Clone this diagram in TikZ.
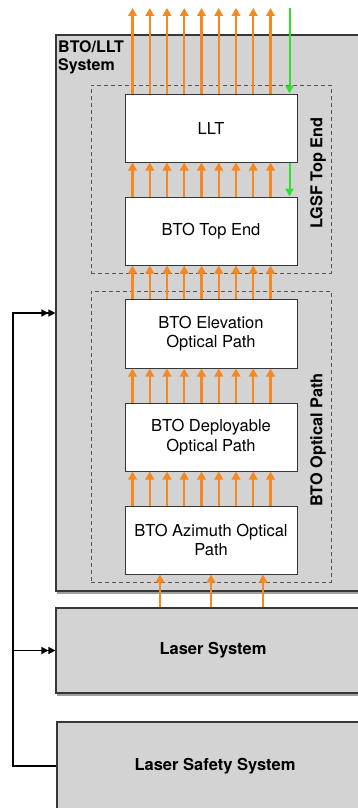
\documentclass[tikz,border=0pt]{standalone}
\usepackage{fontspec}
\setmainfont{TeX Gyre Heros}
\usetikzlibrary{arrows.meta,shadows}
\definecolor{boxgray}{RGB}{211,211,211}
\definecolor{edgegray}{RGB}{55,55,55}
\definecolor{beamorange}{RGB}{245,137,32}
\definecolor{guidegreen}{RGB}{45,225,45}
\tikzstyle{sys} = [draw=edgegray, line width=1.2pt, fill=boxgray, drop shadow={shadow xshift=1pt, shadow yshift=-2.5pt, fill=black!75}, font=\bfseries\fontsize{16.5}{19}\selectfont]
\tikzstyle{group} = [draw=edgegray!85, line width=1pt, dash pattern=on 4pt off 3pt]
\tikzstyle{unit} = [draw=edgegray, line width=1pt, fill=white, minimum width=172pt, minimum height=68pt, align=center, font=\fontsize{16.5}{19.5}\selectfont]
\tikzstyle{tag} = [rotate=90, font=\bfseries\fontsize{16.3}{19}\selectfont]
\tikzstyle{beam} = [draw=beamorange, line width=2.4pt, -{Triangle[width=8.5pt,length=8pt]}]
\tikzstyle{guide} = [draw=guidegreen, line width=2pt, -{Triangle[width=8pt,length=8pt]}]
\tikzstyle{ctrl} = [draw, line width=1.5pt, -{Triangle[width=7pt,length=7pt]Triangle[width=7pt,length=7pt]}]

\begin{document}
\begin{tikzpicture}[x=1pt,y=-1pt]
\useasboundingbox (0,0) rectangle (358,808);
\node (btollt) at (213,313) [sys, minimum width=314pt, minimum height=556pt] {};
\node (btolbl) at (58,40) [anchor=north west, inner sep=0pt, align=left, font=\bfseries\fontsize{16}{18}\selectfont] {BTO/LLT\\System};
\node (topend) at (211,179) [group, minimum width=240pt, minimum height=188pt] {};
\node (optpath) at (211,436.5) [group, minimum width=240pt, minimum height=291pt] {};
\node (llt) at (211,128) [unit] {LLT};
\node (bte) at (211,231) [unit] {BTO Top End};
\node (elev) at (211,333.5) [unit, minimum height=69pt] {BTO Elevation\\Optical Path};
\node (depl) at (211,437) [unit] {BTO Deployable\\Optical Path};
\node (azim) at (211,540) [unit] {BTO Azimuth Optical\\Path};
\node (laser) at (213,650.5) [sys, minimum width=314pt, minimum height=85pt] {Laser System};
\node (safety) at (215,766) [sys, minimum width=316pt, minimum height=88pt] {Laser Safety System};
\node (topendtag) at (318,173) [tag] {LGSF Top End};
\node (opttag) at (318,440) [tag] {BTO Optical Path};
\coordinate (sky) at (0,8);
\coordinate (rail) at (13,0);
% draw lines
\foreach \i in {0,...,8} {
  \path [beam] ([xshift={8pt+17.25pt*\i}]llt.north west) -- ([xshift={8pt+17.25pt*\i}]llt.north west |- sky);
  \path [beam] ([xshift={8pt+17.25pt*\i}]bte.north west) -- ([xshift={8pt+17.25pt*\i}]llt.south west);
  \path [beam] ([xshift={8pt+17.25pt*\i}]elev.north west) -- ([xshift={8pt+17.25pt*\i}]bte.south west);
  \path [beam] ([xshift={8pt+17.25pt*\i}]depl.north west) -- ([xshift={8pt+17.25pt*\i}]elev.south west);
  \path [beam] ([xshift={8pt+17.25pt*\i}]azim.north west) -- ([xshift={8pt+17.25pt*\i}]depl.south west);
}
\foreach \dx in {-51,0,52}
  \path [beam] ([xshift=\dx pt]azim.south |- laser.north) -- ([xshift=\dx pt]azim.south);
\path [guide] ([xshift=-8pt]llt.north east |- sky) -- ([xshift=-8pt]llt.north east);
\path [guide] ([xshift=-8pt]llt.south east) -- ([xshift=-8pt]bte.north east);
\path [ctrl] (safety.west) -- (safety.west -| rail) |- (btollt.west);
\path [ctrl] (laser.west -| rail) -- (laser.west);
\end{tikzpicture}
\end{document}
